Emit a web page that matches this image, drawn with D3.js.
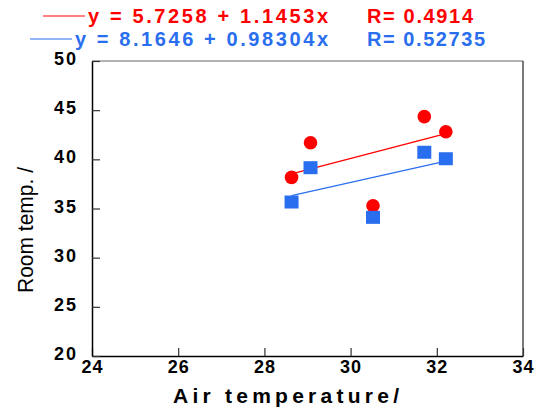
<!DOCTYPE html>
<html>
<head>
<meta charset="utf-8">
<script src="https://cdn.jsdelivr.net/npm/d3@7"></script>
<style>
  body { margin: 0; background: #fff; }
  svg text { font-family: "Liberation Sans", Arial, sans-serif; }
</style>
</head>
<body>
<div id="chart"></div>
<script>
// data
const airTemp = [28.63, 29.07, 30.52, 31.71, 32.21]
const roomRed = [38.17, 41.69, 35.28, 44.34, 42.81]
const roomBlue = [35.66, 39.15, 34.10, 40.72, 40.06]
const fitA = [5.7258, 8.1646] // intercepts
const fitB = [1.1453, 0.98304] // slopes
const fitText = ['y = 5.7258 + 1.1453x', 'y = 8.1646 + 0.98304x']
const rText = ['R= 0.4914', 'R= 0.52735']
const xTicks = [24, 26, 28, 30, 32, 34]
const yTicks = [20, 25, 30, 35, 40, 45, 50]

const red = '#ff0000', blue = '#2a6ef0'

const W = 535, H = 409
const m = { left: 92, right: 523, top: 61, bottom: 356 }

const svg = d3.select('#chart').append('svg')
  .attr('width', W)
  .attr('height', H)

const x = d3.scaleLinear().domain([24, 34]).range([m.left, m.right])
const y = d3.scaleLinear().domain([20, 50]).range([m.bottom, m.top])

// frame: top and right are thin
svg.append('line').attr('x1', m.left).attr('x2', m.right).attr('y1', m.top).attr('y2', m.top)
  .attr('stroke', '#666').attr('stroke-width', 1.2)
svg.append('line').attr('x1', m.right).attr('x2', m.right).attr('y1', m.top).attr('y2', m.bottom)
  .attr('stroke', '#222').attr('stroke-width', 1.2)

// axes with inward ticks
const xAxis = svg.append('g')
  .attr('transform', `translate(0,${m.bottom})`)
  .call(d3.axisBottom(x).tickValues(xTicks).tickSize(-8).tickPadding(4).tickSizeOuter(0))
const yAxis = svg.append('g')
  .attr('transform', `translate(${m.left},0)`)
  .call(d3.axisLeft(y).tickValues(yTicks).tickSize(-8).tickPadding(14).tickSizeOuter(0))

;[xAxis, yAxis].forEach(g => {
  g.select('.domain').attr('stroke', '#000').attr('stroke-width', 1.5)
  g.selectAll('.tick line').attr('stroke', '#333').attr('stroke-width', 1.2)
  g.selectAll('.tick text')
    .attr('fill', '#000')
    .style('font-size', '18px')
    .style('font-weight', 'bold')
    .style('letter-spacing', '2px')
})
xAxis.selectAll('.tick text').style('letter-spacing', '1px')
yAxis.selectAll('.tick text').attr('dy', '0.2em')

// fit lines
const series = [
  { vals: roomRed, color: red },
  { vals: roomBlue, color: blue }
]
const xMin = d3.min(airTemp), xMax = d3.max(airTemp)
series.forEach((s, i) => {
  svg.append('line')
    .attr('x1', x(xMin)).attr('y1', y(fitA[i] + fitB[i] * xMin))
    .attr('x2', x(xMax)).attr('y2', y(fitA[i] + fitB[i] * xMax))
    .attr('stroke', s.color)
    .attr('stroke-width', 1.3)
})

// markers
svg.append('g').selectAll('circle')
  .data(airTemp)
  .join('circle')
  .attr('cx', d => x(d))
  .attr('cy', (d, i) => y(roomRed[i]))
  .attr('r', 6.8)
  .attr('fill', red)

svg.append('g').selectAll('rect')
  .data(airTemp)
  .join('rect')
  .attr('x', d => x(d) - 7)
  .attr('y', (d, i) => y(roomBlue[i]) - 6.5)
  .attr('width', 14)
  .attr('height', 13)
  .attr('fill', blue)

// legend
const legend = [
  { color: red, lx: [43, 85], ty: 23, tx: 88, tw: 240, rw: 106 },
  { color: blue, lx: [30, 72], ty: 46, tx: 75, tw: 253, rw: 118 }
]
legend.forEach((l, i) => {
  svg.append('line')
    .attr('x1', l.lx[0]).attr('x2', l.lx[1])
    .attr('y1', l.ty - 7).attr('y2', l.ty - 7)
    .attr('stroke', l.color).attr('stroke-width', 1.2)
  svg.append('text')
    .attr('x', l.tx).attr('y', l.ty)
    .attr('fill', l.color)
    .attr('textLength', l.tw).attr('lengthAdjust', 'spacing')
    .style('font-size', '20px').style('font-weight', 'bold')
    .text(fitText[i])
  svg.append('text')
    .attr('x', 367).attr('y', l.ty)
    .attr('fill', l.color)
    .attr('textLength', l.rw).attr('lengthAdjust', 'spacing')
    .style('font-size', '20px').style('font-weight', 'bold')
    .text(rText[i])
})

// axis titles
svg.append('text')
  .attr('x', 173).attr('y', 403)
  .attr('textLength', 226).attr('lengthAdjust', 'spacing')
  .style('font-size', '21px').style('font-weight', 'bold')
  .text('Air temperature/')

svg.append('text')
  .attr('transform', 'translate(33,230) rotate(-90)')
  .attr('text-anchor', 'middle')
  .attr('textLength', 126).attr('lengthAdjust', 'spacingAndGlyphs')
  .style('font-size', '22px')
  .text('Room temp. /')
</script>
</body>
</html>
